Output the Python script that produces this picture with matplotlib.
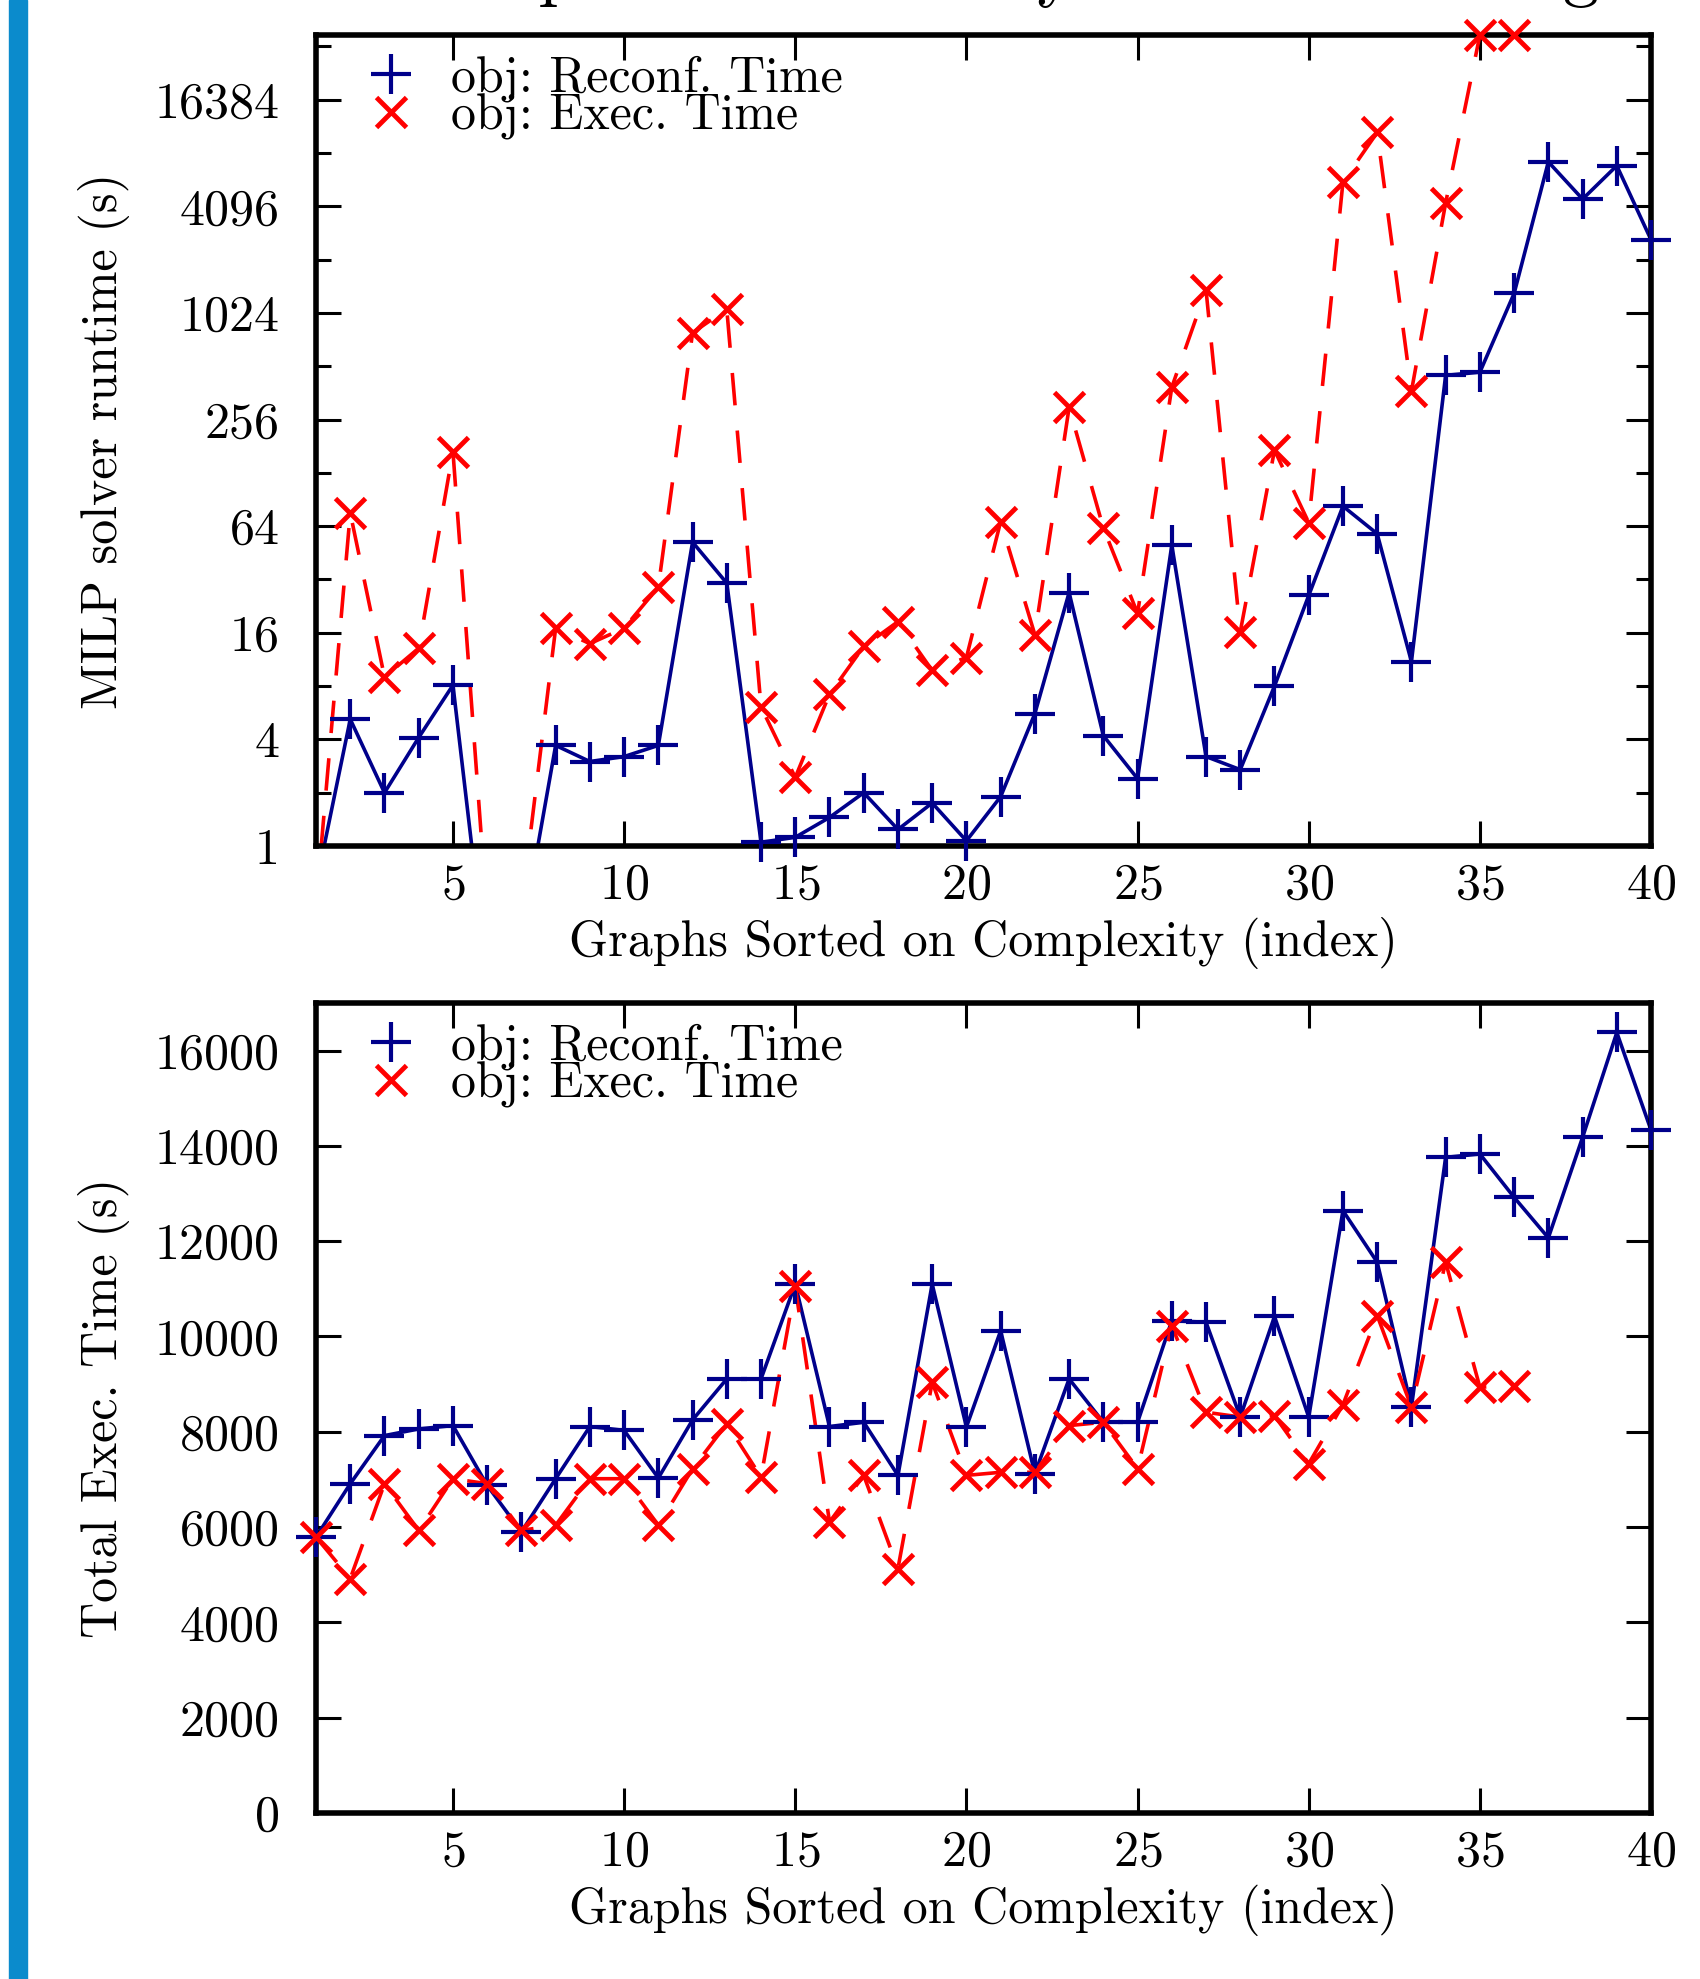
import numpy as np
import matplotlib
matplotlib.use('Agg')
import matplotlib.pyplot as plt
from matplotlib.lines import Line2D
from matplotlib.patches import Rectangle

plt.rcParams['font.family'] = 'cmr10'
plt.rcParams['axes.unicode_minus'] = False
plt.rcParams['axes.formatter.use_mathtext'] = True

# -------------------------------
# data (x = graph index)
idx_reconf = np.arange(1, 41)
idx_exec = np.arange(1, 37)

# MILP solver runtime (s)
runtime_reconf = [0.6, 5.2, 2.0, 4.1, 8.1, 0.18, 0.3, 3.7, 3.0, 3.2,
                  3.7, 52, 30.5, 1.05, 1.12, 1.45, 2.0, 1.24, 1.75, 1.07,
                  1.9, 5.6, 27, 4.2, 2.4, 50, 3.2, 2.7, 8.0, 26,
                  83, 58, 11, 455, 474, 1320, 7300, 4500, 6950, 2650]
runtime_exec = [0.46, 76, 9.0, 13.1, 169, 0.4, 0.45, 17, 13.9, 17,
                29, 793, 1074, 6.1, 2.44, 7.2, 13.4, 18.5, 9.8, 11.6,
                68, 15.6, 300, 62.5, 20.6, 390, 1380, 16.2, 172, 67,
                5630, 10700, 370, 4280, 38000, 38000]

# Total execution time (s)
total_reconf = [5790, 6910, 7920, 8060, 8130, 6875, 5900, 7015, 8110, 8030,
                7030, 8250, 9110, 9110, 11100, 8110, 8200, 7085, 11100, 8100,
                10120, 7120, 9110, 8200, 8200, 10330, 10300, 8310, 10420, 8310,
                12640, 11560, 8520, 13760, 13830, 12920, 12070, 14180, 16380, 14330]
total_exec = [5790, 4920, 6910, 5930, 7015, 6910, 5930, 6040, 7015, 7015,
              6040, 7225, 8170, 7050, 11050, 6105, 7085, 5130, 9040, 7085,
              7150, 7150, 8130, 8200, 7225, 10230, 8410, 8310, 8340, 7330,
              8570, 10440, 8520, 11560, 8935, 8970]

labels = ['obj: Reconf. Time', 'obj: Exec. Time']
x_ticks = [5, 10, 15, 20, 25, 30, 35, 40]
log_ticks = [1, 4, 16, 64, 256, 1024, 4096, 16384]
log_minor = [2, 8, 32, 128, 512, 2048, 8192, 32768]
lin_ticks = list(range(0, 16001, 2000))

blue = '#00008b'
red = '#ff0000'
FS = 36

blue_mk = dict(marker='+', ms=29, mew=3, color=blue)
red_mk = dict(marker='x', ms=21, mew=3.5, color=red)


def draw(ax, ya, yb, ylo, yhi):
    series = [(idx_reconf, ya, '-', blue_mk), (idx_exec, yb, (0, (9, 7)), red_mk)]
    for xs, ys, ls, mk in series:
        ys = np.asarray(ys, dtype=float)
        ax.plot(xs, ys, ls=ls, lw=2.6, color=mk['color'])
        keep = (ys >= ylo) & (ys <= yhi * 1.01)
        ax.plot(xs[keep], ys[keep], ls='none', clip_on=False, zorder=4, **mk)


def style(ax):
    for s in ax.spines.values():
        s.set_linewidth(4)
    ax.set_xlim(1, 40)
    ax.set_xticks(x_ticks)
    ax.tick_params(which='both', direction='in', top=True, right=True,
                   width=2.2, labelsize=FS)
    ax.tick_params(which='major', length=18)
    ax.tick_params(which='minor', length=11)
    ax.tick_params(axis='x', pad=12)
    ax.tick_params(axis='y', pad=26)
    ax.set_xlabel('Graphs Sorted on Complexity (index)', fontsize=FS, labelpad=6)
    handles = [Line2D([], [], ls='none', **blue_mk), Line2D([], [], ls='none', **red_mk)]
    ax.legend(handles, labels, loc='upper left', frameon=False, fontsize=FS,
              borderaxespad=0.15, borderpad=0.25, handlelength=2.2,
              handletextpad=0.1, labelspacing=-0.15)


fig = plt.figure(figsize=(17, 19.79), dpi=100)

# top: MILP solver runtime (log2 scale)
ax1 = fig.add_axes([0.1859, 0.5725, 0.7853, 0.4098])
ax1.set_yscale('log', base=2)
ax1.set_ylim(1, 38000)
draw(ax1, runtime_reconf, runtime_exec, 1, 38000)
style(ax1)
ax1.set_yticks(log_ticks)
ax1.set_yticklabels([str(v) for v in log_ticks])
ax1.set_yticks(log_minor, minor=True)
ax1.set_yticklabels([], minor=True)
ax1.set_ylabel('MILP solver runtime (s)', fontsize=FS, labelpad=18)

# bottom: total execution time
ax2 = fig.add_axes([0.1859, 0.0839, 0.7853, 0.4093])
ax2.set_ylim(0, 17000)
draw(ax2, total_reconf, total_exec, 0, 17000)
style(ax2)
ax2.set_yticks(lin_ticks)
ax2.set_yticklabels([str(v) for v in lin_ticks])
ax2.set_ylabel('Total Exec. Time (s)', fontsize=FS, labelpad=18)

# slide decoration: blue bar on the left, title cut off at the top
fig.add_artist(Rectangle((9 / 1700, 0), 18 / 1700, 1, transform=fig.transFigure,
                         color='#0b8bcc', zorder=0))
fig.text(0.585, 1 + 7 / 1979, 'Computational Analysis of Scheduling',
         ha='center', va='baseline', fontsize=52)

fig.savefig('out.png', dpi=100)
